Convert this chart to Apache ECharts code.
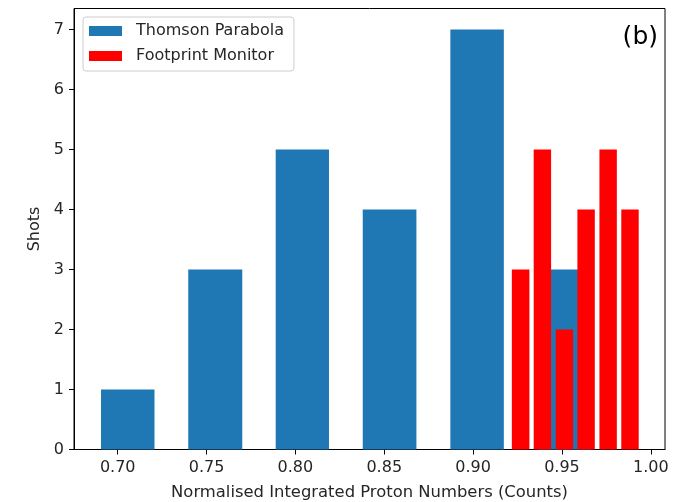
<!DOCTYPE html>
<html>
<head>
<meta charset="utf-8">
<script src="https://cdn.jsdelivr.net/npm/echarts@6/dist/echarts.min.js"></script>
<style>
html,body{margin:0;padding:0;background:#fff;}
#chart{width:698px;height:502px;}
</style>
</head>
<body>
<div id="chart"></div>
<script>
// Thomson Parabola histogram bars: left edge, right edge, count
const tpLeft   = [0.6906, 0.7397, 0.7889, 0.8379, 0.8872, 0.9363];
const tpRight  = [0.7207, 0.7701, 0.8189, 0.8681, 0.9173, 0.9664];
const tpCounts = [1, 3, 5, 4, 7, 3];
// Footprint Monitor histogram bars
const fmLeft   = [0.9218, 0.9341, 0.9465, 0.9587, 0.9711, 0.9834];
const fmRight  = [0.9317, 0.9439, 0.9563, 0.9685, 0.9809, 0.9932];
const fmCounts = [3, 5, 2, 4, 5, 4];
// tick values
const xTicks = [0.70, 0.75, 0.80, 0.85, 0.90, 0.95, 1.00];
const yTicks = [0, 1, 2, 3, 4, 5, 6, 7];

const FONT = 'DejaVu Sans';
const TXT = '#262626';
const FS = 16;

function toData(l, r, c) { return l.map((v, i) => [v, r[i], c[i]]); }
function renderBar(params, api) {
  const p0 = api.coord([api.value(0), api.value(2)]);
  const p1 = api.coord([api.value(1), 0]);
  return {
    type: 'rect',
    shape: { x: p0[0], y: p0[1], width: p1[0] - p0[0], height: p1[1] - p0[1] },
    style: { fill: api.visual('color') }
  };
}

const chart = echarts.init(document.getElementById('chart'), null, { renderer: 'canvas' });
chart.setOption({
  animation: false,
  backgroundColor: '#fff',
  grid: { left: 74, right: 33, top: 8.5, bottom: 52.5, outerBoundsMode: 'none', containLabel: false,
          show: true, borderColor: '#000', borderWidth: 1, backgroundColor: 'transparent' },
  legend: {
    left: 83, top: 17, orient: 'vertical',
    icon: 'rect', itemWidth: 33, itemHeight: 10, itemGap: 9,
    padding: [6, 10, 7, 6],
    backgroundColor: 'rgba(255,255,255,0.8)', borderColor: '#cccccc', borderWidth: 1, borderRadius: 3,
    textStyle: { fontFamily: FONT, fontSize: FS, color: TXT, padding: [0, 0, 0, 9] },
    data: ['Thomson Parabola', 'Footprint Monitor']
  },
  graphic: [{
    type: 'text', right: 40, top: 25,
    style: { text: '(b)', font: '25px "DejaVu Sans"', fill: '#000' }
  }],
  xAxis: {
    type: 'value', min: 0.6754, max: 1.008,
    name: 'Normalised Integrated Proton Numbers (Counts)', nameLocation: 'middle', nameGap: 35,
    nameTextStyle: { fontFamily: FONT, fontSize: 16.4, color: TXT },
    splitLine: { show: false },
    axisLine: { show: true, onZero: false, lineStyle: { color: '#000', width: 1 } },
    axisTick: { show: true, customValues: xTicks, length: 5, lineStyle: { color: '#000' } },
    axisLabel: { customValues: xTicks, formatter: v => v.toFixed(2), fontFamily: FONT, fontSize: FS, color: TXT, margin: 10 }
  },
  yAxis: {
    type: 'value', min: 0, max: 7.35,
    name: 'Shots', nameLocation: 'middle', nameGap: 31,
    nameTextStyle: { fontFamily: FONT, fontSize: FS, color: TXT },
    splitLine: { show: false },
    axisLine: { show: true, lineStyle: { color: '#000', width: 1 } },
    axisTick: { show: true, customValues: yTicks, length: 5, lineStyle: { color: '#000' } },
    axisLabel: { customValues: yTicks, fontFamily: FONT, fontSize: FS, color: TXT, margin: 10 }
  },
  series: [
    { name: 'Thomson Parabola', type: 'custom', renderItem: renderBar, itemStyle: { color: '#1f77b4' },
      encode: { x: [0, 1], y: 2 }, data: toData(tpLeft, tpRight, tpCounts), z: 2 },
    { name: 'Footprint Monitor', type: 'custom', renderItem: renderBar, itemStyle: { color: '#ff0000' },
      encode: { x: [0, 1], y: 2 }, data: toData(fmLeft, fmRight, fmCounts), z: 3 }
  ]
});
</script>
</body>
</html>
